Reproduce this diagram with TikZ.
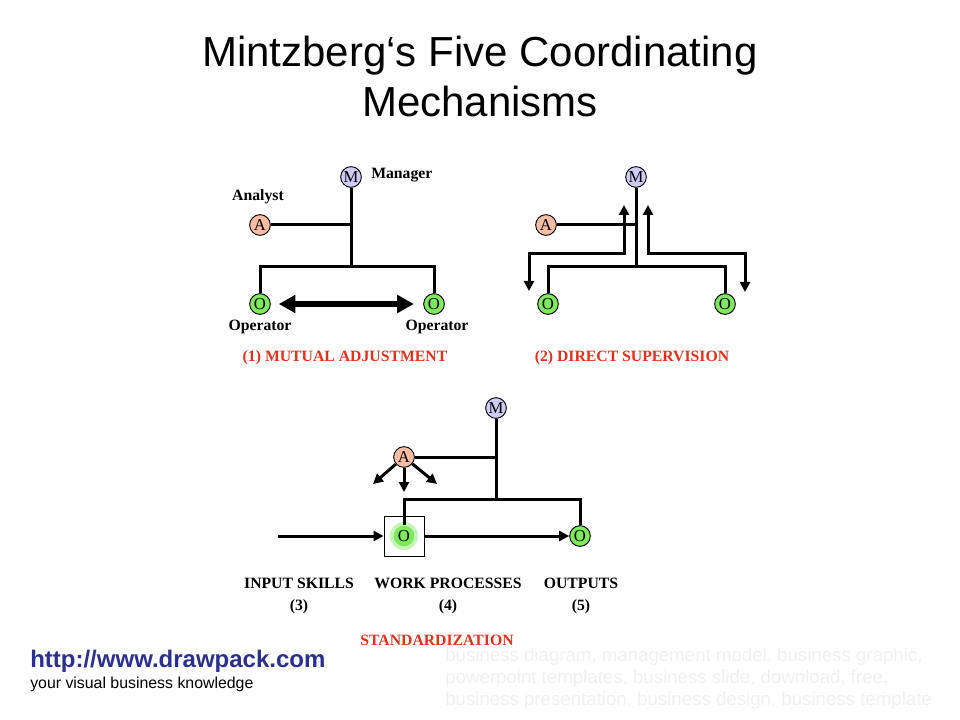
\documentclass[tikz,border=0pt]{standalone}
\usepackage{fontspec}
\setmainfont{Liberation Serif}
\newfontfamily\arialf{Liberation Sans}
\usetikzlibrary{arrows.meta,calc}
\definecolor{mfill}{RGB}{204,204,245}
\definecolor{afill}{RGB}{248,190,165}
\definecolor{ofill}{RGB}{128,232,96}
\definecolor{redlab}{RGB}{228,48,28}
\definecolor{urlblue}{RGB}{43,47,143}
\definecolor{faint}{RGB}{240,240,240}
\begin{document}
\begin{tikzpicture}[x=0.75pt,y=-0.75pt,
  circ/.style={circle,draw=black,line width=0.7pt,inner sep=0pt,minimum size=15.5pt,font=\fontsize{12.5}{12.5}\selectfont},
  mnode/.style={circ,fill=mfill},
  anode/.style={circ,fill=afill},
  onode/.style={circ,fill=ofill},
  lab/.style={font=\fontsize{11.8}{16.5}\selectfont\bfseries,inner sep=0pt},
  redl/.style={lab,text=redlab},
  conn/.style={line width=2.25pt},
  arr/.style={line width=2.25pt,-{Triangle[length=7.5pt,width=7.5pt]}},
  darr/.style={line width=2.25pt,{Triangle[length=7.5pt,width=7.5pt]}-{Triangle[length=7.5pt,width=7.5pt]}},
  bigarr/.style={line width=5pt,{Triangle[length=12.5pt,width=13pt]}-{Triangle[length=12.5pt,width=13pt]}},
  titlef/.style={font=\arialf\fontsize{31.5}{37.5}\selectfont,anchor=base,inner sep=0pt},
  faintf/.style={font=\arialf\fontsize{14}{16}\selectfont,text=faint,anchor=base west,inner sep=0pt}
]
\useasboundingbox (0,0) rectangle (960,720);

% title
\node[titlef] (title1) at (480,67) {Mintzberg‘s Five Coordinating};
\node[titlef] (title2) at (480,117) {Mechanisms};

% ---------- (1) mutual adjustment
\node[mnode] (M1) at (351,177) {M};
\node[anode] (A1) at (260,225) {A};
\node[onode] (O1a) at (260,304) {O};
\node[onode] (O1b) at (434,304) {O};
\coordinate (m1b) at (351,267);
\draw[conn] (A1) -- (A1 -| M1);
\draw[conn] (M1) -- (m1b);
\draw[conn] (O1a) |- (m1b) -| (O1b);
\draw[bigarr, shorten <=6pt, shorten >=7pt] (O1a) -- (O1b);
\node[lab, anchor=west] (mgr) at (371,175) {Manager};
\node[lab] (ana) at (258,197) {Analyst};
\node[lab] (op1) at (260,327) {Operator};
\node[lab] (op2) at (437,327) {Operator};
\node[redl] (lab1) at (345,358) {(1) MUTUAL ADJUSTMENT};

% ---------- (2) direct supervision
\node[mnode] (M2) at (636,177) {M};
\node[anode] (A2) at (546,225) {A};
\node[onode] (O2a) at (548,304) {O};
\node[onode] (O2b) at (725,304) {O};
\coordinate (m2b) at (636,267);
\draw[conn] (A2) -- (A2 -| M2);
\draw[conn] (M2) -- (m2b);
\draw[conn] (O2a) |- (m2b) -| (O2b);
\coordinate (L1) at (624,205);
\coordinate (Lk) at (529,254);
\coordinate (L2) at (529,291);
\draw[darr] (L2) -- (Lk) -| (L1);
\coordinate (R1) at (648,205);
\coordinate (Rk) at (745,254);
\coordinate (R2) at (745,292);
\draw[darr] (R1) |- (Rk) -- (R2);
\node[redl] (lab2) at (632,358) {(2) DIRECT SUPERVISION};

% ---------- (3)-(5) standardization
\node[mnode] (M3) at (496,408) {M};
\node[anode] (A3) at (404,457) {A};
\node[draw, line width=0.75pt, minimum size=30pt, inner sep=0pt] (box) at (404,536) {};
\fill[ofill!45] (404,536) circle [radius=10.5pt];
\node[circ, draw=none, fill=ofill] (O3a) at (404,536) {O};
\node[onode] (O3b) at (580,536) {O};
\coordinate (m3b) at (496,499);
\draw[conn] (A3) -- (A3 -| M3);
\draw[conn] (M3) -- (m3b);
\draw[conn] (O3a) |- (m3b) -| (O3b);
\coordinate (in) at (278,536);
\draw[arr] (in) -- (box);
\draw[arr] (box) -- (O3b);
\coordinate (t1) at (373,484);
\coordinate (t2) at (404,492);
\coordinate (t3) at (437,484);
\draw[arr] (A3) -- (t1);
\draw[arr] (A3) -- (t2);
\draw[arr] (A3) -- (t3);
\node[lab, align=center] (in3) at (299,596) {INPUT SKILLS\\(3)};
\node[lab, align=center] (wp4) at (448,596) {WORK PROCESSES\\(4)};
\node[lab, align=center] (out5) at (581,596) {OUTPUTS\\(5)};
\node[redl] (lab3) at (437,640) {STANDARDIZATION};

% ---------- footer
\node[font=\arialf\bfseries\fontsize{18}{18}\selectfont, text=urlblue, anchor=base west, inner sep=0pt] (url) at (30,667) {http://www.drawpack.com};
\node[font=\arialf\fontsize{11.9}{12}\selectfont, anchor=base west, inner sep=0pt] (tag) at (30,688) {your visual business knowledge};
\node[faintf] (f1) at (445,661) {business diagram, management model, business graphic,};
\node[faintf] (f2) at (445,683) {powerpoint templates, business slide, download, free,};
\node[faintf] (f3) at (445,705) {business presentation, business design, business template};
\end{tikzpicture}
\end{document}
